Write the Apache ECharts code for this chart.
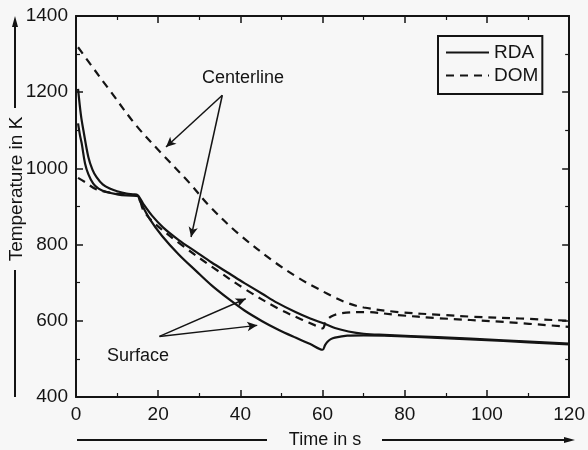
<!DOCTYPE html>
<html>
<head>
<meta charset="utf-8">
<script src="https://cdn.jsdelivr.net/npm/echarts@6/dist/echarts.min.js"></script>
<style>
html,body{margin:0;padding:0;background:#f7f7f7;}
#chart{width:588px;height:450px;}
</style>
</head>
<body>
<div id="chart"></div>
<script>
// ---- data (time in s, temperature in K) ----
var rdaCenterline = [[0.5,1209],[1.2,1140],[1.8,1100],[3,1030],[4,997],[5,977],[6.5,958],[8.2,947],[10,940],[12.3,934],[14,932],[15,930],[16.5,905],[18.5,876],[21.1,846],[25,812],[29.2,781],[33,753],[37.3,724],[41,699],[45.3,671],[49,647],[53.4,623],[57,606],[60.5,592],[63,581],[66.3,572],[70,566],[75,563],[88,557],[104,549],[120,540]];
var rdaSurface = [[0.5,1118],[1,1085],[1.4,1065],[2.2,1013],[3,985],[4.2,960],[5.5,947],[7.4,938],[10,932],[12.3,929],[15,928],[15.5,916],[18,866],[21,822],[25,774],[29.2,731],[33,693],[37.3,656],[41,627],[45.3,599],[49,578],[53.4,556],[57,539],[60,524],[60.6,536],[61.2,545],[62,552],[63,556],[66,561],[70,562],[75,561],[88,555],[104,547],[120,538]];
var domCenterline = [[0.5,1318],[3.4,1275],[8.2,1205],[14.7,1112],[21.1,1036],[27.6,962],[32.4,902],[39.7,827],[48.6,752],[54.2,712],[58.2,688],[62.3,665],[66,647],[70,635],[78.4,623],[89.7,615],[96,611],[108,606],[120,600]];
var domSurface = [[0.5,975],[2.2,964],[5,945],[9.8,934],[15,927],[16.3,892],[18.7,860],[25.2,803],[33.2,741],[41.3,682],[49.4,631],[55,603],[58.2,588],[60,580],[60.8,598],[62.2,612],[64.7,620],[70.4,623],[78.4,615],[88,607],[104,597],[120,584]];
var xTicks = {min:0, max:120, step:20};
var yTicks = {min:400, max:1400, step:200};
var legendNames = ['RDA','DOM'];
// annotation arrows (data coords): [from, to]
var centerArrows = [[[35.6,1192],[21.9,1056]],[[35.6,1192],[28.0,820]]];
var surfaceArrows = [[[20.3,559],[41.3,658]],[[20.3,559],[44.1,588]]];

var ink = '#141414';
var font = '"Liberation Sans", Arial, Helvetica, sans-serif';
var chart = echarts.init(document.getElementById('chart'), null, {renderer:'canvas'});

function axisCommon(showLabel){
  return {
    type:'value',
    axisLine:{show:true, onZero:false, lineStyle:{color:ink, width:2}},
    axisTick:{show:true, inside:true, length:7, lineStyle:{color:ink, width:1.5}},
    minorTick:{show:true, splitNumber:2, length:4, lineStyle:{color:ink, width:1.2}},
    splitLine:{show:false},
    minorSplitLine:{show:false},
    axisLabel:{show:showLabel, color:ink, fontSize:19, fontFamily:font, margin:8,
      formatter:function(v){ return String(v); }},
  };
}
var xb = Object.assign(axisCommon(true), {position:'bottom', min:xTicks.min, max:xTicks.max, interval:xTicks.step});
var xt = Object.assign(axisCommon(false), {position:'top', min:xTicks.min, max:xTicks.max, interval:xTicks.step});
var yl = Object.assign(axisCommon(true), {position:'left', min:yTicks.min, max:yTicks.max, interval:yTicks.step});
var yr = Object.assign(axisCommon(false), {position:'right', min:yTicks.min, max:yTicks.max, interval:yTicks.step});

function arrowLines(list){
  return list.map(function(a){ return [{coord:a[0]},{coord:a[1]}]; });
}
function lineSeries(name, data, dashed, extra){
  var s = {
    type:'line', name:name, data:data, xAxisIndex:0, yAxisIndex:0,
    symbol:'none', showSymbol:false, smooth:0.35,
    lineStyle:{color:ink, width:2.2, type: dashed ? [8,6] : 'solid'},
    itemStyle:{color:ink},
    animation:false, silent:true
  };
  return Object.assign(s, extra || {});
}

var option = {
  backgroundColor:'#f7f7f7',
  animation:false,
  grid:{left:76, right:16, top:16, bottom:53, containLabel:false},
  xAxis:[xb, xt],
  yAxis:[yl, yr],
  legend:{
    data:legendNames, orient:'vertical', left:438, top:36,
    borderColor:ink, borderWidth:2, borderRadius:0,
    padding:[7,4,9,7], itemGap:4, itemWidth:43, itemHeight:18,
    itemStyle:{opacity:0, borderWidth:0},
    lineStyle:{width:2},
    textStyle:{color:ink, fontSize:19, fontFamily:font, padding:[0,0,0,0]},
    selectedMode:false
  },
  series:[
    lineSeries('RDA', rdaCenterline, false, {
      markLine:{silent:true, symbol:['none','arrow'], symbolSize:[7,10], animation:false,
        lineStyle:{color:ink, width:1.5, type:'solid'}, label:{show:false},
        data: arrowLines(centerArrows).concat(arrowLines(surfaceArrows))}
    }),
    lineSeries('RDA', rdaSurface, false),
    lineSeries('DOM', domCenterline, true),
    lineSeries('DOM', domSurface, true)
  ],
  graphic:[
    {type:'text', left:202, top:69, style:{text:'Centerline', fill:ink, font:'18px '+font}},
    {type:'text', left:107, top:347, style:{text:'Surface', fill:ink, font:'18px '+font}},
    {type:'text', x:17, y:189, rotation:Math.PI/2, style:{text:'Temperature in K', fill:ink, font:'19px '+font, align:'center', verticalAlign:'middle'}},
    {type:'line', shape:{x1:15, y1:108, x2:15, y2:24}, style:{stroke:ink, lineWidth:2}},
    {type:'polygon', shape:{points:[[15,16],[12,27],[18,27]]}, style:{fill:ink}},
    {type:'line', shape:{x1:15, y1:270, x2:15, y2:397}, style:{stroke:ink, lineWidth:2}},
    {type:'text', x:325, y:440, style:{text:'Time in s', fill:ink, font:'18px '+font, align:'center', verticalAlign:'middle'}},
    {type:'line', shape:{x1:77, y1:440, x2:267, y2:440}, style:{stroke:ink, lineWidth:2}},
    {type:'line', shape:{x1:382, y1:440, x2:566, y2:440}, style:{stroke:ink, lineWidth:2}},
    {type:'polygon', shape:{points:[[575,440],[564,437],[564,443]]}, style:{fill:ink}}
  ]
};
chart.setOption(option);
</script>
</body>
</html>
